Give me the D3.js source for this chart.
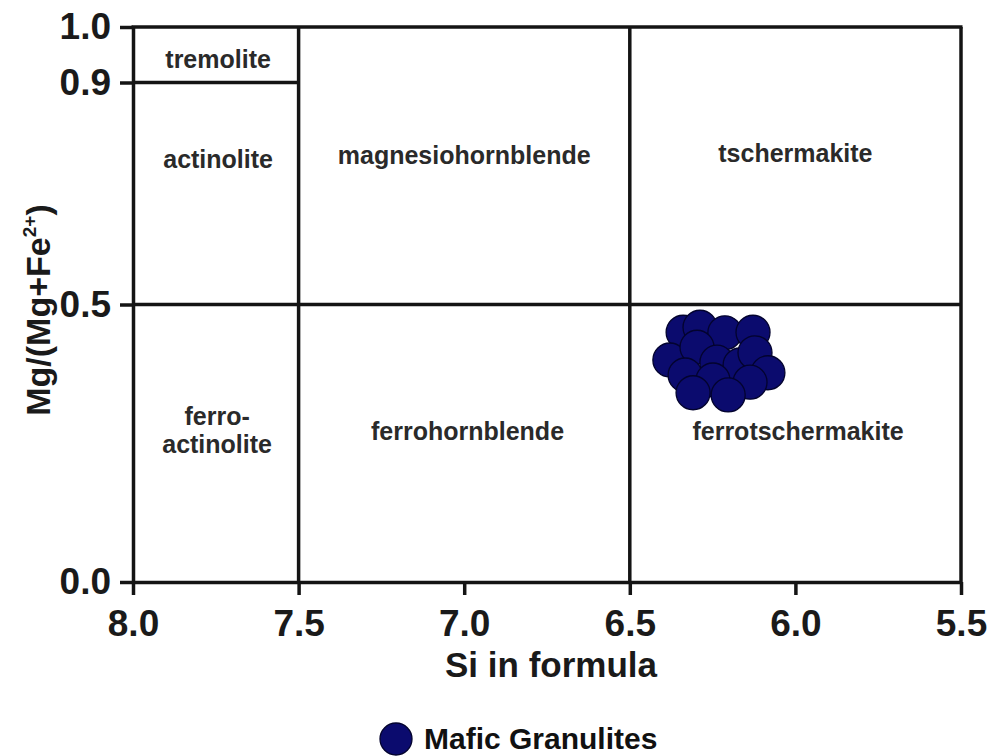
<!DOCTYPE html>
<html>
<head>
<meta charset="utf-8">
<script src="https://cdn.jsdelivr.net/npm/d3@7"></script>
<style>
  html, body { margin: 0; padding: 0; background: #ffffff; }
  svg { display: block; font-family: "Liberation Sans", Arial, Helvetica, sans-serif; }
</style>
</head>
<body>
<svg id="chart" width="991" height="756"></svg>
<script>
// Amphibole classification (Leake et al.): Si (apfu) vs Mg/(Mg+Fe2+)
const xTicks = [8.0, 7.5, 7.0, 6.5, 6.0, 5.5];
const yTicks = [0.0, 0.5, 0.9, 1.0];

// Mafic granulite amphibole analyses
const siValues = [6.339, 6.288, 6.213, 6.128, 6.379, 6.297, 6.237, 6.167, 6.122, 6.083, 6.333, 6.249, 6.137, 6.309, 6.203];
const mgValues = [0.450, 0.459, 0.449, 0.450, 0.400, 0.423, 0.396, 0.391, 0.413, 0.377, 0.373, 0.364, 0.360, 0.341, 0.337];

// Field boundaries: [si1, mg1, si2, mg2]
const boundaries = [
  [7.5, 0.0, 7.5, 1.0],
  [6.5, 0.0, 6.5, 1.0],
  [8.0, 0.5, 5.5, 0.5],
  [8.0, 0.9, 7.5, 0.9]
];

// Field names with their anchor (si, mg at text baseline)
const fieldNames = ["tremolite", "actinolite", "magnesiohornblende", "tschermakite", "ferro-", "actinolite", "ferrohornblende", "ferrotschermakite"];
const fieldSi    = [7.743, 7.743, 7.0, 6.0, 7.746, 7.746, 6.99, 5.992];
const fieldMg    = [0.926, 0.746, 0.753, 0.757, 0.283, 0.232, 0.256, 0.256];

const seriesName = "Mafic Granulites";

const svg = d3.select("#chart");
const x = d3.scaleLinear().domain([8.0, 5.5]).range([133, 961]);
const y = d3.scaleLinear().domain([0, 1]).range([582, 27]);

const ink = "#141414";
const lw = 3.5;

// frame (top and right edges)
svg.append("line").attr("x1", x(8.0) - 1.5).attr("x2", x(5.5) + 1.5).attr("y1", y(1)).attr("y2", y(1))
  .attr("stroke", ink).attr("stroke-width", lw);
svg.append("line").attr("x1", x(5.5)).attr("x2", x(5.5)).attr("y1", y(1)).attr("y2", y(0))
  .attr("stroke", ink).attr("stroke-width", lw);

// field boundaries
svg.append("g").selectAll("line").data(boundaries).join("line")
  .attr("x1", d => x(d[0])).attr("y1", d => y(d[1]))
  .attr("x2", d => x(d[2])).attr("y2", d => y(d[3]))
  .attr("stroke", ink).attr("stroke-width", lw);

// axes
const xAxis = svg.append("g").attr("transform", `translate(0,${y(0)})`)
  .call(d3.axisBottom(x).tickValues(xTicks).tickFormat(d3.format(".1f")).tickSize(13).tickPadding(15).tickSizeOuter(0));
const yAxis = svg.append("g").attr("transform", `translate(${x(8.0)},0)`)
  .call(d3.axisLeft(y).tickValues(yTicks).tickFormat(d3.format(".1f")).tickSize(13).tickPadding(9).tickSizeOuter(0));

[xAxis, yAxis].forEach(g => {
  g.select(".domain").attr("stroke", ink).attr("stroke-width", lw);
  g.selectAll(".tick line").attr("stroke", ink).attr("stroke-width", lw);
  g.selectAll(".tick text").attr("fill", "#1a1a1a")
    .style("font-size", "37px").style("font-weight", "bold")
    .style("font-family", "'Liberation Sans', Arial, sans-serif");
});

// axis titles
svg.append("text").attr("x", 551).attr("y", 677).attr("text-anchor", "middle")
  .style("font-size", "35px").style("font-weight", "bold").attr("fill", "#1a1a1a")
  .text("Si in formula");

const yt = svg.append("text").attr("transform", "translate(50,310) rotate(-90)")
  .attr("text-anchor", "middle").style("font-size", "34px").style("font-weight", "bold").attr("fill", "#1a1a1a");
yt.append("tspan").text("Mg/(Mg+Fe");
yt.append("tspan").attr("dy", -14).style("font-size", "19px").text("2+");
yt.append("tspan").attr("dy", 14).text(")");

// field labels
svg.append("g").selectAll("text").data(fieldNames).join("text")
  .attr("x", (d, i) => x(fieldSi[i])).attr("y", (d, i) => y(fieldMg[i]))
  .attr("text-anchor", "middle").attr("fill", "#2a2a2a")
  .style("font-size", "25px").style("font-weight", "bold")
  .text(d => d);

// data points
const ptFill = "#0b0b6e", ptStroke = "#03032e";
svg.append("g").selectAll("circle").data(siValues).join("circle")
  .attr("cx", d => x(d)).attr("cy", (d, i) => y(mgValues[i]))
  .attr("r", 17).attr("fill", ptFill).attr("stroke", ptStroke).attr("stroke-width", 1.3);

// legend
const lg = svg.append("g");
lg.append("circle").attr("cx", 396).attr("cy", 739).attr("r", 16)
  .attr("fill", ptFill).attr("stroke", ptStroke).attr("stroke-width", 1.3);
lg.append("text").attr("x", 424).attr("y", 749)
  .style("font-size", "30px").style("font-weight", "bold").attr("fill", "#111")
  .text(seriesName);
</script>
</body>
</html>
